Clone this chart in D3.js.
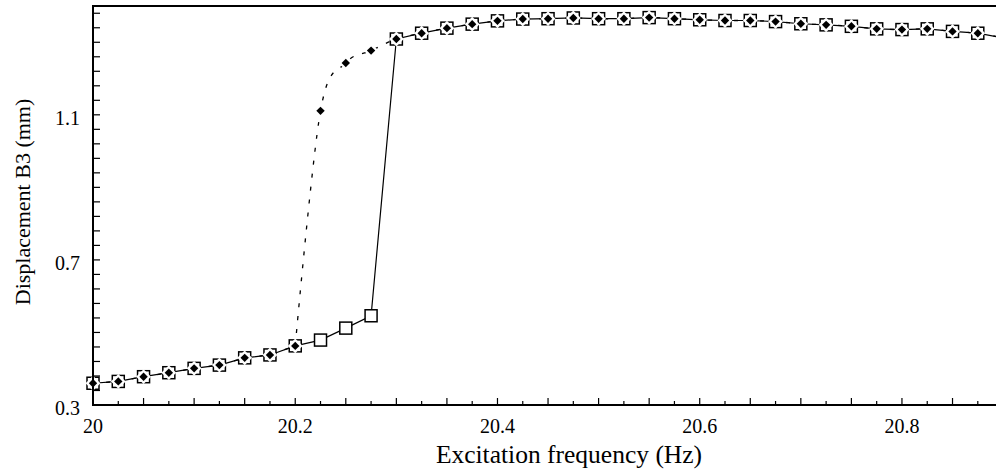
<!DOCTYPE html>
<html>
<head>
<meta charset="utf-8">
<script src="https://cdn.jsdelivr.net/npm/d3@7"></script>
<style>
  html, body { margin: 0; padding: 0; background: #fff; }
  svg { display: block; }
  text { font-family: "Liberation Serif", "Times New Roman", serif; fill: #000; }
</style>
</head>
<body>
<svg id="chart" width="996" height="472"></svg>
<script>
// ---- data ----
const frequency = [20, 20.025, 20.05, 20.075, 20.1, 20.125, 20.15, 20.175, 20.2, 20.225,
  20.25, 20.275, 20.3, 20.325, 20.35, 20.375, 20.4, 20.425, 20.45, 20.475, 20.5,
  20.525, 20.55, 20.575, 20.6, 20.625, 20.65, 20.675, 20.7, 20.725, 20.75, 20.775,
  20.8, 20.825, 20.85, 20.875, 20.9];
// increasing sweep (open squares, solid line)
const sweepUp = [0.360, 0.365, 0.378, 0.389, 0.401, 0.410, 0.430, 0.438, 0.463, 0.479,
  0.512, 0.546, 1.309, 1.325, 1.339, 1.350, 1.359, 1.364, 1.365, 1.367, 1.365,
  1.365, 1.368, 1.365, 1.362, 1.360, 1.360, 1.357, 1.351, 1.348, 1.344, 1.337,
  1.335, 1.337, 1.330, 1.325, 1.312];
// decreasing sweep (filled diamonds, dotted line)
const sweepDown = [0.360, 0.365, 0.378, 0.389, 0.401, 0.410, 0.430, 0.438, 0.463, 1.111,
  1.243, 1.277, 1.309, 1.325, 1.339, 1.350, 1.359, 1.364, 1.365, 1.367, 1.365,
  1.365, 1.368, 1.365, 1.362, 1.360, 1.360, 1.357, 1.351, 1.348, 1.344, 1.337,
  1.335, 1.337, 1.330, 1.325, 1.312];
const xTickLabels = [20, 20.2, 20.4, 20.6, 20.8];
const yTickLabels = [0.3, 0.7, 1.1];
const xTitle = "Excitation frequency (Hz)";
const yTitle = "Displacement B3 (mm)";

// ---- layout ----
const svg = d3.select("#chart");
const L = 93, R = 996, T = 6, B = 405;
const x = d3.scaleLinear().domain([20, 20.893]).range([L, R]);
const y = d3.scaleLinear().domain([0.3, 1.4]).range([B, T]);

const upPts = frequency.map((f, i) => [f, sweepUp[i]]);
const downPts = frequency.map((f, i) => [f, sweepDown[i]]);
const jumpIdx = 8; // last point of the lower branch of the decreasing sweep

const g = svg.append("g");

// lines
const lineSmooth = d3.line().x(d => x(d[0])).y(d => y(d[1])).curve(d3.curveCardinal.tension(0));
const lineStraight = d3.line().x(d => x(d[0])).y(d => y(d[1]));

g.append("path").datum(downPts.slice(0, jumpIdx + 1)).attr("d", lineStraight)
  .attr("fill", "none").attr("stroke", "#000").attr("stroke-width", 1.3)
  .attr("stroke-dasharray", "4,9");
g.append("path").datum(downPts.slice(jumpIdx)).attr("d", lineSmooth)
  .attr("fill", "none").attr("stroke", "#000").attr("stroke-width", 1.3)
  .attr("stroke-dasharray", "4,9");
g.append("path").datum(upPts).attr("d", lineStraight)
  .attr("fill", "none").attr("stroke", "#000").attr("stroke-width", 1.2);

// squares
const sq = 6;
g.selectAll("rect.sq").data(upPts).enter().append("rect")
  .attr("class", "sq")
  .attr("x", d => x(d[0]) - sq).attr("y", d => y(d[1]) - sq)
  .attr("width", 2 * sq).attr("height", 2 * sq)
  .attr("fill", "#fff").attr("stroke", "#000").attr("stroke-width", 1.5);

// diamonds: white halo then black
const diamond = (cx, cy, r) => `M${cx},${cy - r}L${cx + r},${cy}L${cx},${cy + r}L${cx - r},${cy}Z`;
g.selectAll("path.halo").data(downPts).enter().append("path")
  .attr("class", "halo")
  .attr("d", d => diamond(x(d[0]), y(d[1]), 7.4))
  .attr("fill", "#fff");
g.selectAll("path.dm").data(downPts).enter().append("path")
  .attr("class", "dm")
  .attr("d", d => diamond(x(d[0]), y(d[1]), 4.2))
  .attr("fill", "#000");

// ---- axes ----
const ax = svg.append("g");
ax.append("line").attr("x1", L).attr("x2", L).attr("y1", T).attr("y2", B)
  .attr("stroke", "#000").attr("stroke-width", 2);
ax.append("line").attr("x1", L - 1).attr("x2", R).attr("y1", B).attr("y2", B)
  .attr("stroke", "#000").attr("stroke-width", 2);
ax.append("line").attr("x1", L - 1).attr("x2", R).attr("y1", T).attr("y2", T)
  .attr("stroke", "#000").attr("stroke-width", 2);

// x ticks (every 0.025, long at 0.05)
const xTicks = d3.range(0, 36).map(i => 20 + i * 0.025);
ax.selectAll("line.xt").data(xTicks).enter().append("line")
  .attr("x1", d => x(d)).attr("x2", d => x(d))
  .attr("y1", B).attr("y2", (d, i) => B - (i % 2 === 0 ? 7 : 4))
  .attr("stroke", "#000").attr("stroke-width", 1.2);
// y ticks (every 0.04)
const yTicks = d3.range(0, 28).map(i => 0.3 + i * 0.04);
ax.selectAll("line.yt").data(yTicks).enter().append("line")
  .attr("x1", L).attr("x2", L + 7)
  .attr("y1", d => y(d)).attr("y2", d => y(d))
  .attr("stroke", "#000").attr("stroke-width", 1.2);

ax.selectAll("text.xl").data(xTickLabels).enter().append("text")
  .attr("x", d => x(d)).attr("y", B + 28)
  .attr("text-anchor", "middle").attr("font-size", 20)
  .text(d => d3.format("")(d));
ax.selectAll("text.yl").data(yTickLabels).enter().append("text")
  .attr("x", L - 13).attr("y", d => y(d) + 10)
  .attr("text-anchor", "end").attr("font-size", 20)
  .text(d => d3.format(".1f")(d));

svg.append("text").attr("x", 569).attr("y", 463)
  .attr("text-anchor", "middle").attr("font-size", 25.5).text(xTitle);
svg.append("text").attr("transform", "translate(30,202) rotate(-90)")
  .attr("text-anchor", "middle").attr("font-size", 22).text(yTitle);
</script>
</body>
</html>
